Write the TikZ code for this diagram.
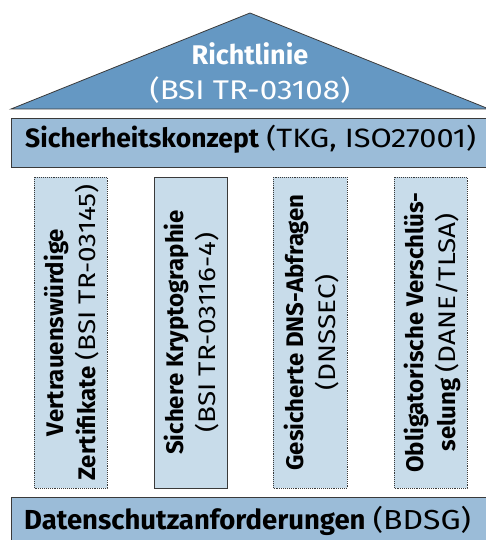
\documentclass[tikz,border=0pt]{standalone}
\usepackage{fontspec}
\setmainfont{Fira Sans}
\newfontfamily\regfont{Fira Sans}[FakeStretch=1.16]
\newcommand\rg[1]{{\regfont #1}}
\definecolor{roofblue}{HTML}{6598C3}
\definecolor{barblue}{HTML}{9BBCD8}
\definecolor{pillarblue}{HTML}{C8DCEA}
\definecolor{edgegray}{HTML}{3A3A3A}
\begin{document}
\begin{tikzpicture}[x=1pt,y=-1pt,
  bar/.style={draw=edgegray, line width=0.9pt, fill=barblue},
  pillar/.style={draw=edgegray, line width=0.9pt, fill=pillarblue, densely dotted},
  pillarsolid/.style={draw=edgegray, line width=0.9pt, fill=pillarblue},
  ptext/.style={rotate=90, anchor=base, align=center, font=\fontsize{24}{32}\selectfont, text=black, inner sep=0pt},
  btext/.style={font=\fontsize{26.5}{30}\selectfont, text=black, inner sep=0pt}]
\useasboundingbox (0,0) rectangle (486,540);
\clip (0,0) rectangle (486,540);
% roof
\filldraw[fill=roofblue, draw=edgegray, line width=0.8pt] (11,109) -- (250,13) -- (489,109) -- cycle;
\node[align=center, anchor=base, inner sep=0pt, text=white, font=\fontsize{27}{35}\selectfont] (roof) at (250,100)
  {\textbf{Richtlinie}\\\rg{(BSI TR-03108)}};
% top bar
\draw[bar] (11,118) rectangle (495,167);
\node[btext, anchor=base west] (sk) at (25,148) {\textbf{Sicherheitskonzept} \rg{(TKG, ISO27001)}};
% pillars
\draw[pillar] (34,177) rectangle (107,488);
\node[ptext] (p1) at (95,332.5) {\textbf{Vertrauenswürdige}\\\textbf{Zertifikate} \rg{(BSI TR-03145)}};
\draw[pillarsolid] (154,177) rectangle (227,488);
\node[ptext] (p2) at (215,332.5) {\textbf{Sichere Kryptographie}\\\rg{(BSI TR-03116-4)}};
\draw[pillar] (273,177) rectangle (347,488);
\node[ptext] (p3) at (335,332.5) {\textbf{Gesicherte DNS-Abfragen}\\\rg{(DNSSEC)}};
\draw[pillar] (394,177) rectangle (467,488);
\node[ptext] (p4) at (455,332.5) {\textbf{Obligatorische Verschlüs-}\\\textbf{selung} \rg{(DANE/TLSA)}};
% bottom bar
\draw[bar] (11,497) rectangle (495,560);
\node[btext, anchor=base west, font=\fontsize{27.5}{30}\selectfont] (ds) at (24,529) {\textbf{Datenschutzanforderungen} \rg{(BDSG)}};
\end{tikzpicture}
\end{document}
